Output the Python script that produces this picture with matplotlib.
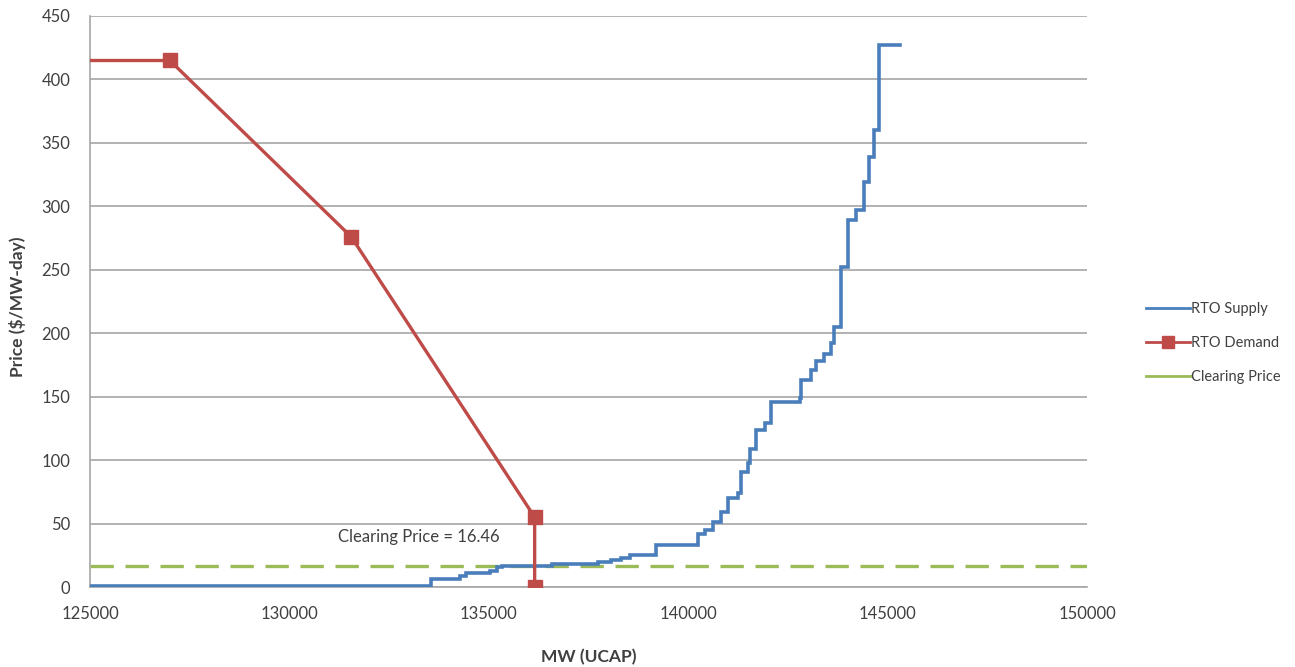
import matplotlib
matplotlib.use("Agg")
import matplotlib.pyplot as plt
from matplotlib.lines import Line2D

# Supply step curve (MW, $/MW-day), steps-post
supply_mw = [125000, 133550, 134290, 134420, 135040, 135200, 135325, 136575, 137750,
             138075, 138325, 138550, 139200, 140250, 140417, 140625, 140833, 141000,
             141250, 141333, 141500, 141560, 141708, 141917, 142083, 142792, 142833,
             143083, 143208, 143417, 143583, 143667, 143833, 144000, 144208, 144417,
             144542, 144667, 144792, 145300]
supply_price = [1, 6, 9, 11, 13, 15.5, 16.46, 18, 19.5,
                21, 23, 25, 33, 42, 45, 51.5, 59, 70,
                74, 91, 98, 109, 124, 129, 146, 149, 163,
                171, 178, 184, 192, 205, 252, 289, 297, 319,
                339, 360, 427, 427]

# Demand curve
demand_mw = [120000, 127000, 131550, 136150, 136150]
demand_price = [415, 415, 276, 55, 0]

clearing_price = 16.46
x_ticks = [125000, 130000, 135000, 140000, 145000, 150000]
y_ticks = [0, 50, 100, 150, 200, 250, 300, 350, 400, 450]

plt.rcParams['font.family'] = ['Lato', 'DejaVu Sans']

fig = plt.figure(figsize=(12.95, 6.67), dpi=100)
ax = fig.add_axes([90/1295, 1-587/667, (1087-90)/1295, (587-16)/667])

ax.set_xlim(125000, 150000)
ax.set_ylim(0, 450)
ax.set_xticks(x_ticks)
ax.set_yticks(y_ticks)
ax.grid(axis='y', color='#a6a6a6', linewidth=1.2)
ax.set_axisbelow(True)
for s in ['top', 'right']:
    ax.spines[s].set_visible(False)
for s in ['left', 'bottom']:
    ax.spines[s].set_color('#a6a6a6')
    ax.spines[s].set_linewidth(1.2)
ax.tick_params(axis='x', length=0, labelsize=12, labelcolor='#404040', pad=14)
ax.tick_params(axis='y', length=0, labelsize=12, labelcolor='#404040', pad=14)

ax.plot(supply_mw, supply_price, drawstyle='steps-post', color='#4a7ebb',
        linewidth=2.6, solid_joinstyle='miter', zorder=3)
ax.plot(demand_mw[1:], demand_price[1:], color='#be4b48', linewidth=2.4,
        marker='s', markersize=10, zorder=4)
ax.plot(demand_mw[:2], demand_price[:2], color='#be4b48', linewidth=2.4, zorder=4)
ax.axhline(clearing_price, color='#9bbb59', linewidth=2.4, dashes=(7, 3.5), zorder=2)

ax.text(133250, 39.5, 'Clearing Price = %.2f' % clearing_price, fontsize=12,
        color='#404040', ha='center', va='center')

ax.set_ylabel('Price ($/MW-day)', fontsize=12.5, fontweight='bold', color='#404040')
ax.yaxis.set_label_coords(-0.064, 0.49)
ax.set_xlabel('MW (UCAP)', fontsize=12.5, fontweight='bold', color='#404040')
ax.xaxis.set_label_coords(0.5, -0.108)

handles = [Line2D([], [], color='#4a7ebb', linewidth=2),
           Line2D([], [], color='#be4b48', linewidth=2, marker='s', markersize=9),
           Line2D([], [], color='#9bbb59', linewidth=2)]
labels = ['RTO Supply', 'RTO Demand', 'Clearing Price']
leg = ax.legend(handles, labels, loc='center left', bbox_to_anchor=(1.052, 0.427),
                frameon=False, fontsize=10.5, handlelength=3.0, labelspacing=1.35,
                handletextpad=0.1, borderpad=0)
for t in leg.get_texts():
    t.set_color('#404040')

fig.savefig('out.png', dpi=100)
